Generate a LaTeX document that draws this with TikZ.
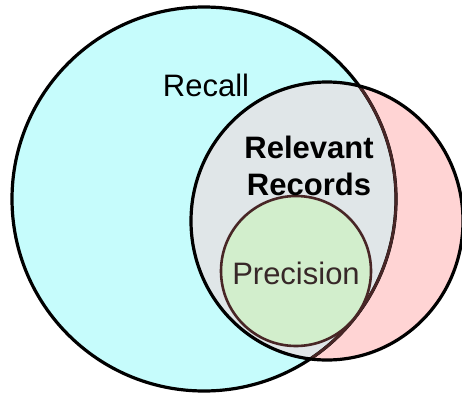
\documentclass[tikz,border=0pt]{standalone}
\usepackage{fontspec}
\setmainfont{Liberation Sans}
\definecolor{cyanfill}{RGB}{198,252,252}
\definecolor{pinkfill}{RGB}{255,212,212}
\definecolor{overlapfill}{RGB}{224,230,232}
\definecolor{greenfill}{RGB}{210,238,204}
\definecolor{darkedge}{RGB}{72,38,38}
\definecolor{prectext}{RGB}{55,40,40}
\tikzset{
  outline/.style={line width=3.2pt, draw=black},
  lbl/.style={font=\fontsize{31}{37}\selectfont, inner sep=0pt, align=center},
}
\begin{document}
\begin{tikzpicture}[x=1pt,y=1pt]
\useasboundingbox (0,0) rectangle (462,392);
% big recall circle
\fill[cyanfill] (204,193) circle (192);
% relevant records ellipse
\fill[pinkfill] (327,171) ellipse [x radius=136, y radius=139];
\begin{scope}
  \clip (204,193) circle (192);
  \fill[overlapfill] (327,171) ellipse [x radius=136, y radius=139];
\end{scope}
\draw[outline] (204,193) circle (192);
\begin{scope}
  \clip (327,171) ellipse [x radius=136, y radius=139];
  \draw[line width=2.8pt, draw=darkedge] (204,193) circle (192);
\end{scope}
\draw[outline] (327,171) ellipse [x radius=136, y radius=139];
% precision circle
\fill[greenfill] (296,121) circle (75);
\draw[line width=2.6pt, draw=darkedge] (296,121) circle (75);
% labels
\node[lbl] (recall) at (206,307) {Recall};
\node[lbl, font=\fontsize{31}{37}\selectfont\bfseries] (relevant) at (309,226) {Relevant\\Records};
\node[lbl, text=prectext] (precision) at (296,119) {Precision};
\end{tikzpicture}
\end{document}
